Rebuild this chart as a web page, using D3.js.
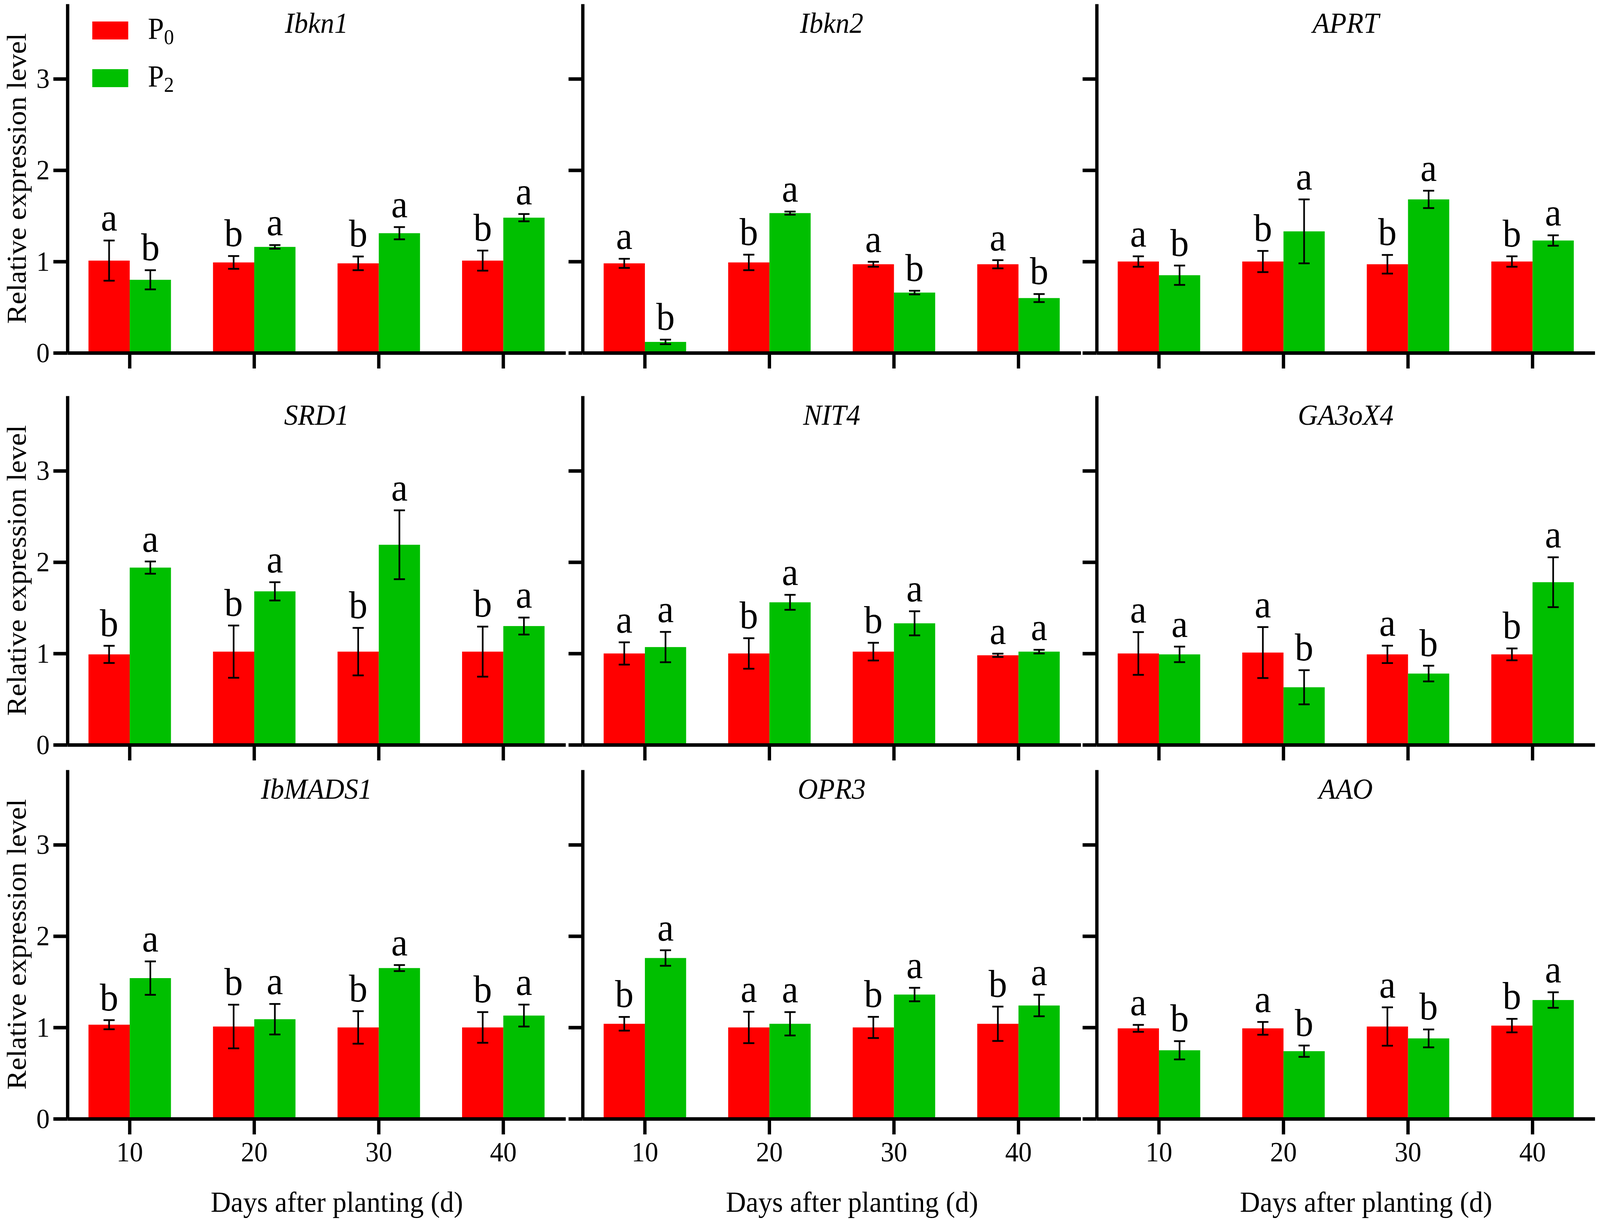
<!DOCTYPE html>
<html>
<head>
<meta charset="utf-8">
<script src="https://cdn.jsdelivr.net/npm/d3@7"></script>
<style>
  html, body { margin: 0; padding: 0; background: #fff; overflow: hidden; }
  svg { display: block; width: 100vw; height: 100vh; }
  text { font-family: "Liberation Serif", "Times New Roman", serif; }
</style>
</head>
<body>
<svg id="chart" viewBox="0 0 4317 3122" preserveAspectRatio="none"></svg>
<script>
// gene panels, read left to right, top to bottom
var genes = ['Ibkn1', 'Ibkn2', 'APRT', 'SRD1', 'NIT4', 'GA3oX4', 'IbMADS1', 'OPR3', 'AAO'];
var days = ['10', '20', '30', '40'];
var groups = ['P0', 'P2'];

// P0 means and error (one row per gene, one value per day)
var p0Mean = [
    [1.01, 0.99, 0.98, 1.01],
    [0.98, 0.99, 0.97, 0.97],
    [1.00, 1.00, 0.97, 1.00],
    [0.99, 1.02, 1.02, 1.02],
    [1.00, 1.00, 1.02, 0.98],
    [1.00, 1.01, 0.99, 0.99],
    [1.03, 1.01, 1.00, 1.00],
    [1.04, 1.00, 1.00, 1.04],
    [0.99, 0.99, 1.01, 1.02]
];
var p0Err = [
    [0.22, 0.07, 0.075, 0.11],
    [0.05, 0.085, 0.027, 0.045],
    [0.057, 0.116, 0.102, 0.057],
    [0.094, 0.286, 0.26, 0.274],
    [0.122, 0.167, 0.097, 0.018],
    [0.234, 0.279, 0.095, 0.065],
    [0.05, 0.239, 0.178, 0.168],
    [0.075, 0.172, 0.116, 0.188],
    [0.038, 0.07, 0.21, 0.074]
];
// P2 means and error
var p2Mean = [
    [0.80, 1.16, 1.31, 1.48],
    [0.12, 1.53, 0.66, 0.60],
    [0.85, 1.33, 1.68, 1.23],
    [1.94, 1.68, 2.19, 1.30],
    [1.07, 1.56, 1.33, 1.02],
    [0.99, 0.63, 0.78, 1.78],
    [1.54, 1.09, 1.65, 1.13],
    [1.76, 1.04, 1.36, 1.24],
    [0.75, 0.74, 0.88, 1.30]
];
var p2Err = [
    [0.105, 0.02, 0.067, 0.04],
    [0.025, 0.017, 0.02, 0.044],
    [0.106, 0.35, 0.095, 0.057],
    [0.067, 0.1, 0.377, 0.093],
    [0.166, 0.082, 0.132, 0.02],
    [0.085, 0.187, 0.086, 0.273],
    [0.183, 0.167, 0.033, 0.12],
    [0.085, 0.128, 0.074, 0.118],
    [0.1, 0.062, 0.098, 0.085]
];
// significance letters
var p0Sig = [
    ['a', 'b', 'b', 'b'],
    ['a', 'b', 'a', 'a'],
    ['a', 'b', 'b', 'b'],
    ['b', 'b', 'b', 'b'],
    ['a', 'b', 'b', 'a'],
    ['a', 'a', 'a', 'b'],
    ['b', 'b', 'b', 'b'],
    ['b', 'a', 'b', 'b'],
    ['a', 'a', 'a', 'b']
];
var p2Sig = [
    ['b', 'a', 'a', 'a'],
    ['b', 'a', 'b', 'b'],
    ['b', 'a', 'a', 'a'],
    ['a', 'a', 'a', 'a'],
    ['a', 'a', 'a', 'a'],
    ['a', 'b', 'b', 'a'],
    ['a', 'a', 'a', 'a'],
    ['a', 'a', 'a', 'a'],
    ['b', 'b', 'b', 'a']
];
var yTicks = [0, 1, 2, 3];

var svg = d3.select('#chart');
svg.append('rect')
    .attr('width', 4317)
    .attr('height', 3122)
    .attr('fill', '#fff');

// layout
var colLeft = [182, 1572, 2959];
var rowZero = [903, 1906, 2863];
var panelW = 1344;
var panelH = 893;
var colors = {P0: '#ff0000', P2: '#00bf00'};
var lineW = 9;

var x0 = d3.scaleBand().domain(days).range([0, panelW]);
var x1 = d3.scaleBand().domain(groups).range([0, x0.bandwidth()]).paddingOuter(0.51);
var y = d3.scaleLinear().domain([0, 3.82]).range([panelH, 0]);

genes.forEach(function(gene, gi) {
    var row = Math.floor(gi / 3);
    var col = gi % 3;
    var g = svg.append('g')
        .attr('transform', 'translate(' + [colLeft[col], rowZero[row] - panelH] + ')');

    var data = days.map(function(d, i) {
        return {
            day: d,
            values: [
                {key: 'P0', mean: p0Mean[gi][i], err: p0Err[gi][i], sig: p0Sig[gi][i]},
                {key: 'P2', mean: p2Mean[gi][i], err: p2Err[gi][i], sig: p2Sig[gi][i]}
            ]
        };
    });

    var dayG = g.selectAll('.day')
        .data(data)
        .enter()
        .append('g')
        .attr('class', 'day')
        .attr('transform', function(d) { return 'translate(' + x0(d.day) + ',0)'; });

    var bar = dayG.selectAll('.bar')
        .data(function(d) { return d.values; })
        .enter()
        .append('g')
        .attr('class', 'bar');

    bar.append('rect')
        .attr('x', function(d) { return x1(d.key); })
        .attr('width', x1.bandwidth())
        .attr('y', function(d) { return y(d.mean); })
        .attr('height', function(d) { return panelH - y(d.mean); })
        .attr('fill', function(d) { return colors[d.key]; });

    // error bars
    var cx = function(d) { return x1(d.key) + x1.bandwidth() / 2; };
    bar.append('line')
        .attr('x1', cx).attr('x2', cx)
        .attr('y1', function(d) { return y(d.mean - d.err); })
        .attr('y2', function(d) { return y(d.mean + d.err); });
    bar.append('line')
        .attr('x1', function(d) { return cx(d) - 15; })
        .attr('x2', function(d) { return cx(d) + 15; })
        .attr('y1', function(d) { return y(d.mean + d.err); })
        .attr('y2', function(d) { return y(d.mean + d.err); });
    bar.append('line')
        .attr('x1', function(d) { return cx(d) - 15; })
        .attr('x2', function(d) { return cx(d) + 15; })
        .attr('y1', function(d) { return y(d.mean - d.err); })
        .attr('y2', function(d) { return y(d.mean - d.err); });
    bar.selectAll('line')
        .attr('stroke', '#000')
        .attr('stroke-width', 4.5);

    bar.append('text')
        .attr('x', cx)
        .attr('y', function(d) { return y(d.mean + d.err) - 25; })
        .attr('text-anchor', 'middle')
        .attr('font-size', 100)
        .text(function(d) { return d.sig; });

    // axes
    var yAxis = d3.axisLeft(y)
        .tickValues(yTicks)
        .tickSize(38)
        .tickSizeOuter(0)
        .tickPadding(10)
        .tickFormat(col === 0 ? d3.format('d') : function() { return ''; });
    var yG = g.append('g').call(yAxis);

    var xAxis = d3.axisBottom(x0)
        .tickSize(40)
        .tickSizeOuter(0)
        .tickPadding(18)
        .tickFormat(row === 2 ? function(d) { return d; } : function() { return ''; });
    var xG = g.append('g')
        .attr('transform', 'translate(0,' + panelH + ')')
        .call(xAxis);

    [yG, xG].forEach(function(ax) {
        ax.attr('font-family', null).attr('font-size', 72).attr('color', '#000');
        ax.selectAll('path, line').attr('stroke-width', lineW);
        ax.selectAll('text').attr('fill', '#000');
    });

    // gene name
    g.append('text')
        .attr('x', panelW / 2)
        .attr('y', 74)
        .attr('text-anchor', 'middle')
        .attr('font-size', 75)
        .attr('font-style', 'italic')
        .text(gene);

    if (col === 0) {
        svg.append('text')
            .attr('transform', 'translate(' + [70, rowZero[row] - panelH / 2] + ') rotate(-90)')
            .attr('text-anchor', 'middle')
            .attr('font-size', 74)
            .text('Relative expression level');
    }
    if (row === 2) {
        svg.append('text')
            .attr('x', colLeft[col] + panelW / 2 + 55)
            .attr('y', 3101)
            .attr('text-anchor', 'middle')
            .attr('font-size', 75)
            .text('Days after planting (d)');
    }

    // legend in first panel
    if (gi === 0) {
        var leg = g.selectAll('.legend')
            .data(groups)
            .enter()
            .append('g')
            .attr('class', 'legend')
            .attr('transform', function(d, i) { return 'translate(67,' + (45 + i * 122) + ')'; });
        leg.append('rect')
            .attr('width', 97)
            .attr('height', 46)
            .attr('fill', function(d) { return colors[d]; });
        var lt = leg.append('text')
            .attr('x', 150)
            .attr('y', 44)
            .attr('font-size', 78);
        lt.append('tspan').text('P');
        lt.append('tspan')
            .attr('font-size', 54)
            .attr('dy', 14)
            .text(function(d) { return d.slice(1); });
    }
});
</script>
</body>
</html>
